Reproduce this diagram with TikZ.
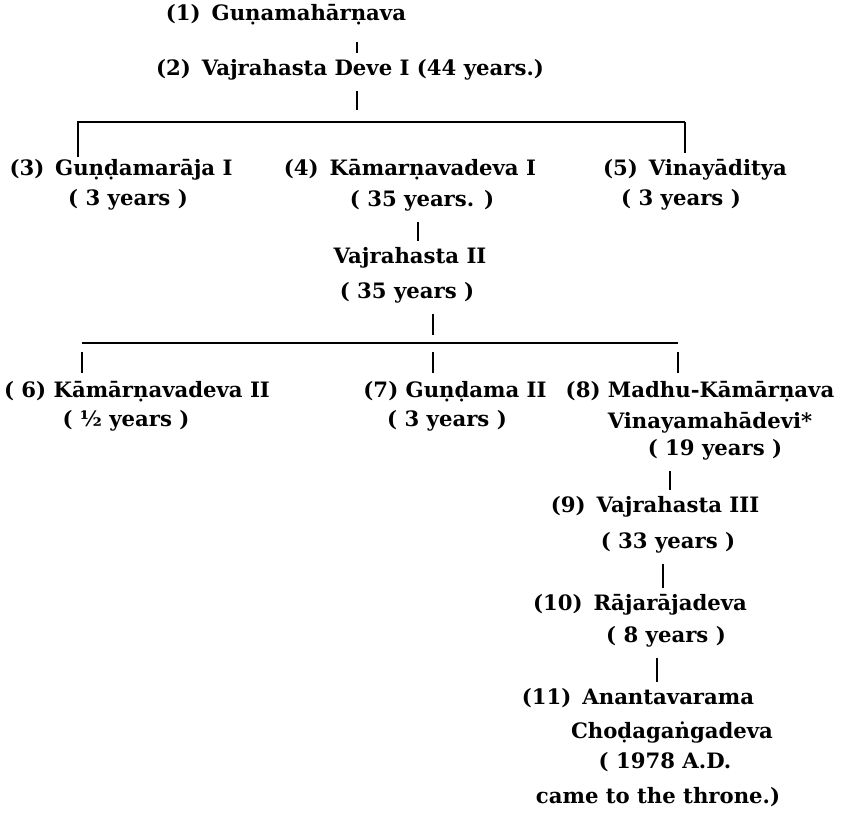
\documentclass[tikz,border=0pt]{standalone}
\usepackage{fontspec}
\setmainfont{DejaVu Serif}
\usetikzlibrary{positioning}
\usetikzlibrary{calc}
\tikzset{king/.style={font=\bfseries\fontsize{10.6}{13}\selectfont, inner sep=1pt}}
\tikzset{bar/.style={line width=0.9pt, shorten <=4pt, shorten >=2pt}}
\tikzset{branch/.style={line width=0.7pt}}

\begin{document}
\begin{tikzpicture}[x=0.5pt, y=-0.5pt]
    \useasboundingbox (0,0) rectangle (856,816);

    % Nodes
    \node [king] (n1)   at (286,15)  {(1)\, Guṇamahārṇava};
    \node [king] (n2)   at (350,70)  {(2)\, Vajrahasta Deve I (44 years.)};
    \node [king] (n3)   at (121,170) {(3)\, Guṇḍamarāja I};
    \node [king] (n3y)  at (128,200) {( 3 years )};
    \node [king] (n4)   at (410,170) {(4)\, Kāmarṇavadeva I};
    \node [king] (n4y)  at (422,201) {( 35 years. )};
    \node [king] (n5)   at (695,170) {(5)\, Vinayāditya};
    \node [king] (n5y)  at (681,200) {( 3 years )};
    \node [king] (n4b)  at (410,258) {Vajrahasta II};
    \node [king] (n4by) at (407,293) {( 35 years )};
    \node [king] (n6)   at (137,392) {( 6) Kāmārṇavadeva II};
    \node [king] (n6y)  at (126,421) {( ½ years )};
    \node [king] (n7)   at (455,392) {(7) Guṇḍama II};
    \node [king] (n7y)  at (447,421) {( 3 years )};
    \node [king] (n8)   at (700,392) {(8) Madhu-Kāmārṇava};
    \node [king] (n8b)  at (710,423) {Vinayamahādevi*};
    \node [king] (n8y)  at (715,450) {( 19 years )};
    \node [king] (n9)   at (655,507) {(9)\, Vajrahasta III};
    \node [king] (n9y)  at (668,543) {( 33 years )};
    \node [king] (n10)  at (640,605) {(10)\, Rājarājadeva};
    \node [king] (n10y) at (666,637) {( 8 years )};
    \node [king] (n11)  at (638,698) {(11)\, Anantavarama};
    \node [king] (n11b) at (672,732) {Choḍagaṅgadeva};
    \node [king] (n11c) at (665,762) {( 1978 A.D.};
    \node [king] (n11d) at (658,797) {came to the throne.)};

    % Forks
    \coordinate (left1)  at (78,122);
    \coordinate (fork1)  at (357,122);
    \coordinate (right1) at (685,122);
    \coordinate (left2)  at (82,343);
    \coordinate (fork2)  at (433,343);
    \coordinate (right2) at (678,343);

    % Bars between nodes
    \draw [bar, shorten <=7pt] (n1.south -| fork1) -- (n2.north -| fork1);
    \draw [bar, shorten >=6pt] (n2.south -| fork1) -- (fork1);
    \draw [bar] (n4y.south -| 418,0) -- (n4b.north -| 418,0);
    \draw [bar, shorten >=4pt] (n4by.south -| fork2) -- (fork2);
    \draw [bar] (n8y.south -| 670,0) -- (n9.north -| 670,0);
    \draw [bar] (n9y.south -| 663,0) -- (n10.north -| 663,0);
    \draw [bar] (n10y.south -| 657,0) -- (n11.north -| 657,0);

    % 1st fork
    \draw [branch] (n3.north -| left1) -- (left1) -- (right1);
    \draw [line width=1.4pt, shorten >=2pt] (right1) -- (n5.north -| right1);

    % 2nd fork
    \draw [branch] (left2) -- (right2);
    \draw [bar, shorten <=4.5pt, shorten >=3pt] (left2) -- (n6.north -| left2);
    \draw [bar, shorten <=4.5pt, shorten >=3pt] (fork2) -- (n7.north -| fork2);
    \draw [bar, shorten <=4.5pt, shorten >=3pt] (right2) -- (n8.north -| right2);

\end{tikzpicture}
\end{document}
